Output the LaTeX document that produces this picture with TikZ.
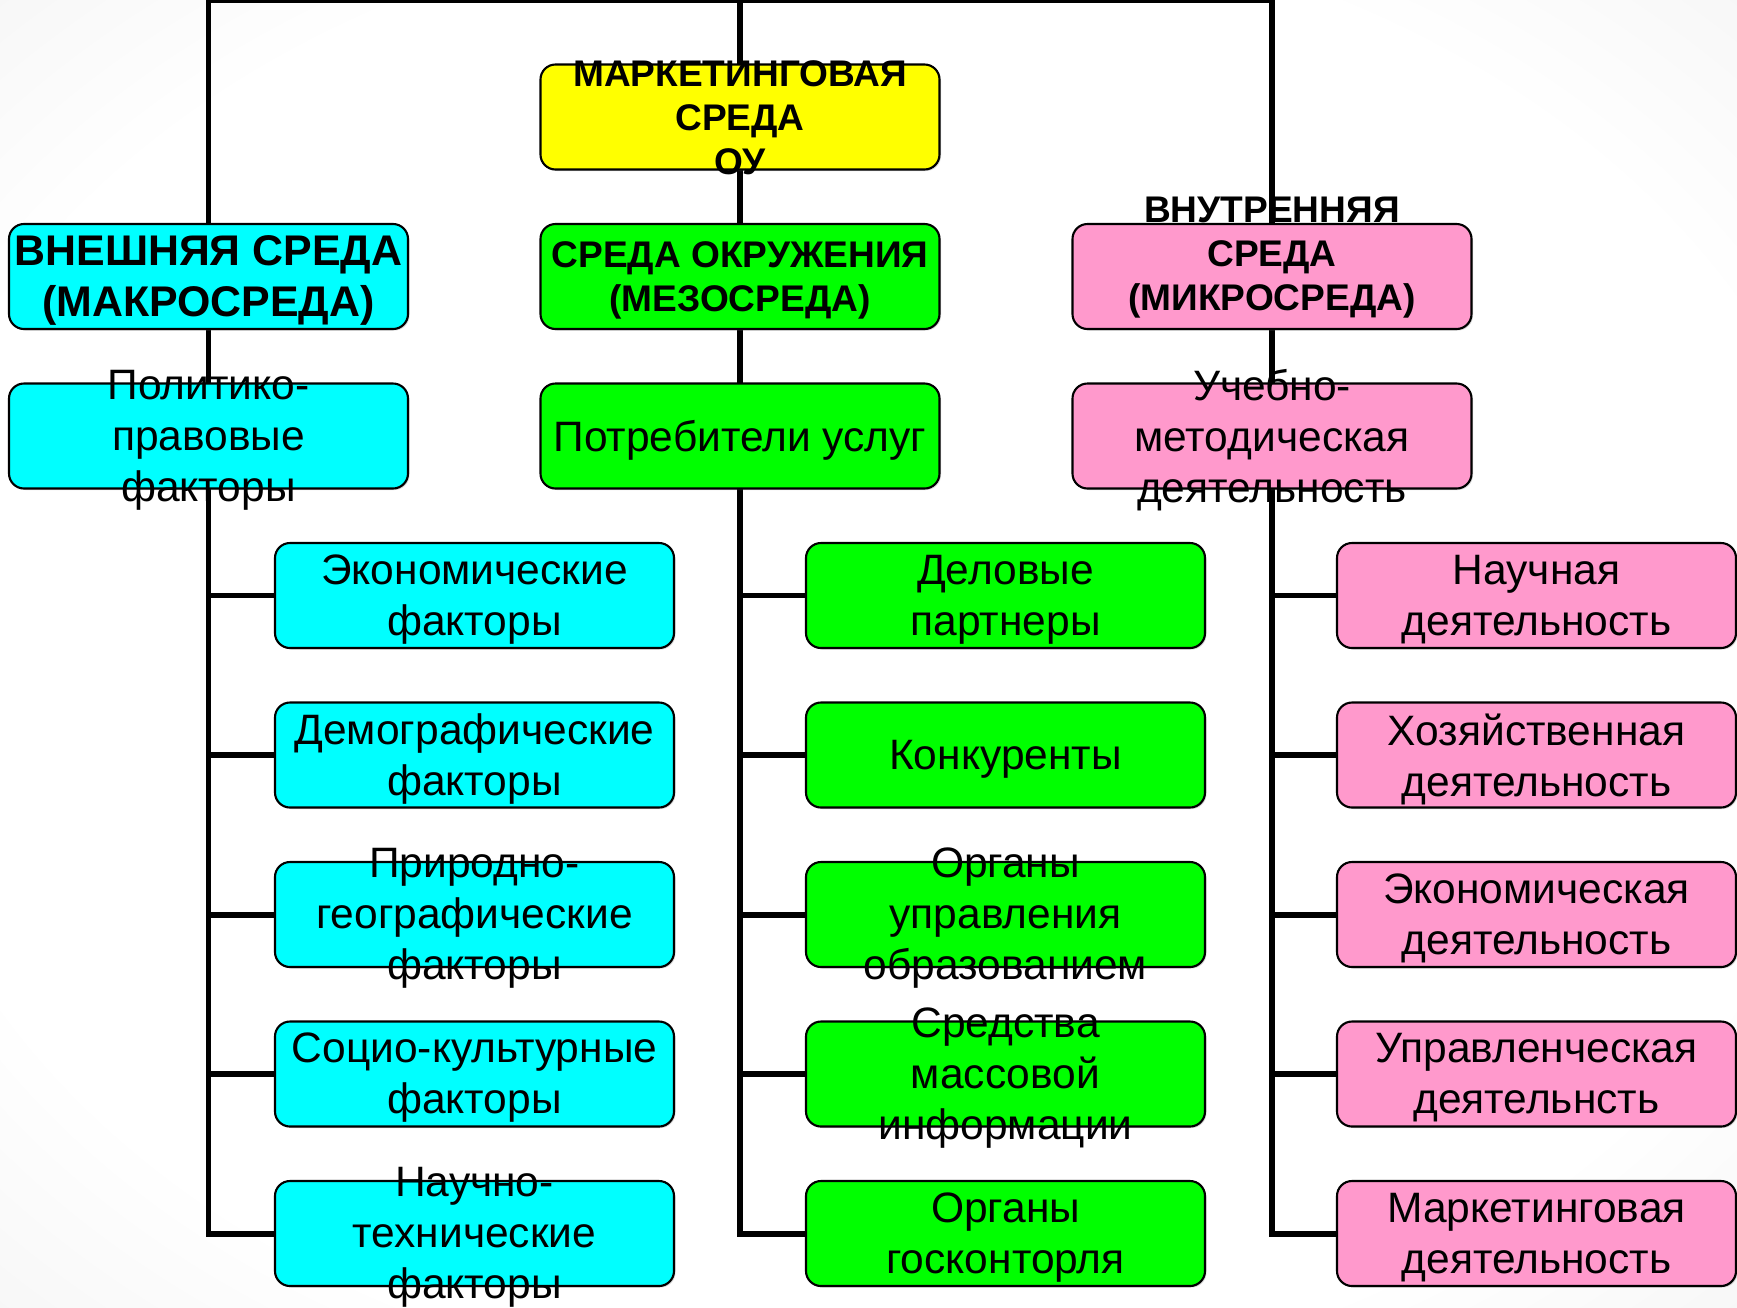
\documentclass[tikz,border=0pt]{standalone}
\usepackage{fontspec}
\setmainfont{Liberation Sans}
\usetikzlibrary{positioning}
\usetikzlibrary{shadows}
\definecolor{envyellow}{RGB}{255,255,0}
\definecolor{envcyan}{RGB}{0,255,255}
\definecolor{envgreen}{RGB}{0,255,0}
\definecolor{envpink}{RGB}{255,153,204}
\pgfdeclareradialshading{slidebg}{\pgfpoint{0bp}{0bp}}{%
  color(0bp)=(white); color(28bp)=(white); color(50bp)=(black!9); color(72bp)=(black!15)}
\pgfdeclarelayer{bg}
\pgfdeclarelayer{lines}
\pgfsetlayers{bg,lines,main}

\begin{document}
\begin{tikzpicture}
  \tikzset{
    envbox/.style={draw=black,line width=0.6pt,fill=#1,rounded corners=0.15cm,
      minimum width=3.99cm,minimum height=1.05cm,inner sep=0pt,
      drop shadow={shadow xshift=0.015cm,shadow yshift=-0.015cm,opacity=0.3}},
    envtxt/.style={align=center,inner sep=0pt,yshift=-0.04cm,
      font=\fontsize{12.1pt}{14.5pt}\selectfont},
    headtxt/.style={align=center,inner sep=0pt,yshift=-0.035cm,
      font=\fontsize{10.55pt}{12.5pt}\selectfont\bfseries},
    bigheadtxt/.style={align=center,inner sep=0pt,yshift=-0.035cm,
      font=\fontsize{12.2pt}{14.5pt}\selectfont\bfseries},
    branch/.style={line width=1.7pt,black},
  }
  \useasboundingbox (0,0) rectangle (17.37,-13.07);
  %BACKGROUND
  \begin{pgfonlayer}{bg}
    \shade[shading=slidebg] (0,0) rectangle (17.37,-13.07);
  \end{pgfonlayer}
  %TOP BOX
  \node[envbox=envyellow,label={[headtxt,yshift=0.025cm]center:МАРКЕТИНГОВАЯ\\СРЕДА\\ОУ}] (mkt) at (7.40,-1.17) {};
  %HEADERS
  \node[envbox=envcyan,label={[bigheadtxt]center:ВНЕШНЯЯ СРЕДА\\(МАКРОСРЕДА)}] (macro) at (2.085,-2.765) {};
  \node[envbox=envgreen,label={[headtxt]center:СРЕДА ОКРУЖЕНИЯ\\(МЕЗОСРЕДА)}] (meso) at (7.40,-2.765) {};
  \node[envbox=envpink,label={[headtxt,yshift=0.22cm]center:ВНУТРЕННЯЯ\\СРЕДА\\(МИКРОСРЕДА)}] (micro) at (12.72,-2.765) {};
  %FIRST ROW
  \node[envbox=envcyan,label={[envtxt]center:Политико-\\правовые\\факторы}] (ext0) at (2.085,-4.36) {};
  \node[envbox=envgreen,label={[envtxt]center:Потребители услуг}] (mid0) at (7.40,-4.36) {};
  \node[envbox=envpink,label={[envtxt]center:Учебно-\\методическая\\деятельность}] (int0) at (12.72,-4.36) {};
  %EXTERNAL FACTORS
  \foreach \txt [count=\i] in {{Экономические\\факторы},{Демографические\\факторы},{Природно-\\географические\\факторы},{Социо-культурные\\факторы},{Научно-\\технические\\факторы}}{
    \node[envbox=envcyan,label={[envtxt]center:\txt}] (ext\i) at (4.745,{-4.36-1.595*\i}) {};
  }
  %MESO FACTORS
  \foreach \txt [count=\i] in {{Деловые\\партнеры},{Конкуренты},{Органы\\управления\\образованием},{Средства\\массовой\\информации},{Органы\\госконторля}}{
    \node[envbox=envgreen,label={[envtxt]center:\txt}] (mid\i) at (10.055,{-4.36-1.595*\i}) {};
  }
  %INTERNAL FACTORS
  \foreach \txt [count=\i] in {{Научная\\деятельность},{Хозяйственная\\деятельность},{Экономическая\\деятельность},{Управленческая\\деятельнсть},{Маркетинговая\\деятельность}}{
    \node[envbox=envpink,label={[envtxt]center:\txt}] (int\i) at (15.365,{-4.36-1.595*\i}) {};
  }
  %TRUNK LINES
  \coordinate (topL) at (2.085,0);
  \coordinate (topM) at (7.40,0);
  \coordinate (topR) at (12.72,0);
  \begin{pgfonlayer}{lines}
    \draw[branch] (topL) -- (topR);
    \draw[branch] (topL) |- (ext5.west);
    \draw[branch] (topM) |- (mid5.west);
    \draw[branch] (topR) |- (int5.west);
    %BRANCHES
    \foreach \i in {1,...,4}{
      \draw[branch] (ext\i.west) -- (ext\i.west -| topL);
      \draw[branch] (mid\i.west) -- (mid\i.west -| topM);
      \draw[branch] (int\i.west) -- (int\i.west -| topR);
    }
  \end{pgfonlayer}
\end{tikzpicture}
\end{document}
